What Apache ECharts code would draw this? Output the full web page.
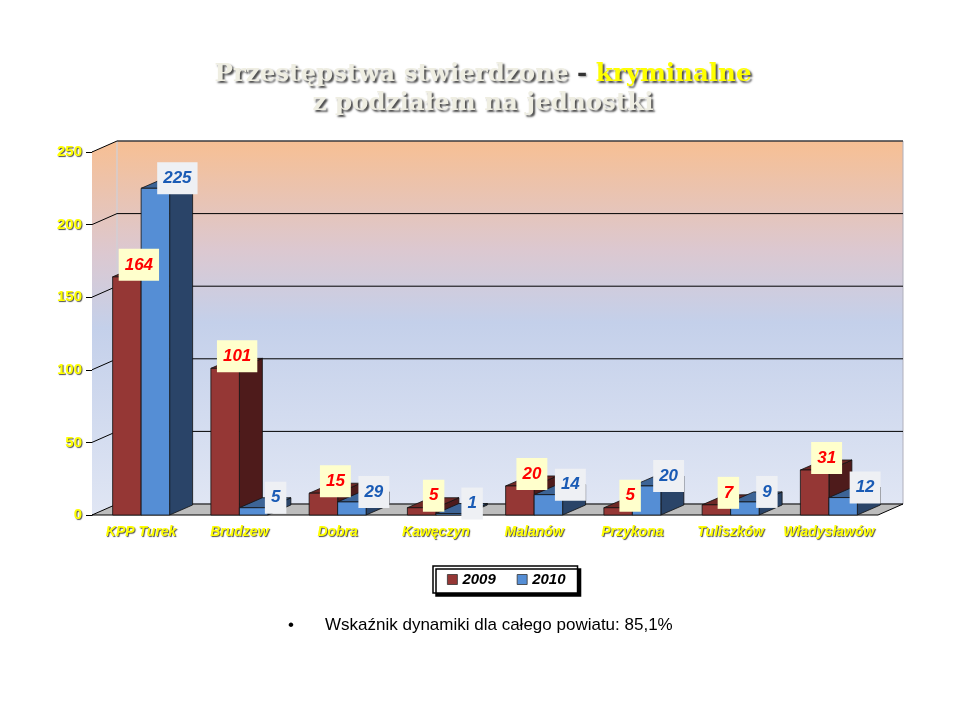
<!DOCTYPE html>
<html><head><meta charset="utf-8">
<script src="https://cdn.jsdelivr.net/npm/echarts@6/dist/echarts.min.js"></script>
<style>html,body{margin:0;padding:0;background:#fff}#c{width:960px;height:720px}</style>
</head><body><div id="c"></div>
<script>
// ---- data ----
const categories = ['KPP Turek','Brudzew','Dobra','Kawęczyn','Malanów','Przykona','Tuliszków','Władysławów'];
const values2009 = [164,101,15,5,20,5,7,31];
const values2010 = [225,5,9,1,14,20,9,12];
const labels2009 = ['164','101','15','5','20','5','7','31'];
const labels2010 = ['225','5','29','1','14','20','9','12'];
const yTicks = [0,50,100,150,200,250];
const seriesNames = ['2009','2010'];
const titleLine1a = 'Przestępstwa stwierdzone';
const titleLine1b = 'kryminalne';
const titleLine2 = 'z podziałem na jednostki';
const footnote = 'Wskaźnik dynamiki dla całego powiatu: 85,1%';

// ---- style ----
const DX = 25, DY = -11;      // wall depth
const BDX = 23, BDY = -10;    // bar depth
const RED = {front:'#953735', side:'#4e1b1b', top:'#6e2826'};
const BLUE = {front:'#558ed5', side:'#2a4468', top:'#3d6496'};
const wallGrad = () => new echarts.graphic.LinearGradient(0,0,0,1,[
  {offset:0,color:'#f7bf93'},{offset:0.3,color:'#dcc8d0'},{offset:0.5,color:'#c4d0ea'},{offset:1,color:'#e0e6f4'}]);

const chart = echarts.init(document.getElementById('c'));

function bgRender(params, api){
  const cs = params.coordSys;
  const x0 = cs.x, x1 = cs.x + cs.width, yT = cs.y, yB = cs.y + cs.height;
  const ch = [];
  ch.push({type:'polygon', shape:{points:[[x0,yT],[x0+DX,yT+DY],[x0+DX,yB+DY],[x0,yB]]},
    style:{fill:wallGrad(), stroke:null}});
  ch.push({type:'rect', shape:{x:x0+DX,y:yT+DY,width:cs.width,height:cs.height},
    style:{fill:wallGrad(), stroke:'#b0b0bc', lineWidth:1}});
  ch.push({type:'line', shape:{x1:x0+DX,y1:yT+DY,x2:x0+DX,y2:yB+DY}, style:{stroke:'rgba(255,255,255,0.5)',lineWidth:1}});
  yTicks.forEach(v=>{
    if (v===0) return;
    const y = api.coord([0,v])[1];
    ch.push({type:'polyline', shape:{points:[[x0,y],[x0+DX,y+DY],[x1+DX,y+DY]]}, style:{stroke:'#000',lineWidth:1,fill:null}});
  });
  ch.push({type:'polygon', shape:{points:[[x0,yB],[x1,yB],[x1+DX,yB+DY],[x0+DX,yB+DY]]},
    style:{fill:'#bdbdbd', stroke:'#000', lineWidth:1}});
  return {type:'group', children:ch};
}

function barRender(k){
  const col = k===0 ? RED : BLUE;
  return function(params, api){
    const i = api.value(0), v = api.value(1);
    const c = api.coord([i,v]), b = api.coord([i,0]);
    const bw = api.size([1,0])[0]*0.29;
    const xl = k===0 ? c[0]-bw : c[0], xr = k===0 ? c[0] : c[0]+bw;
    const top = c[1], base = b[1];
    const st = {stroke:'#111', lineWidth:0.8, lineJoin:'round'};
    return {type:'group', children:[
      {type:'polygon', shape:{points:[[xr,top],[xr+BDX,top+BDY],[xr+BDX,base+BDY],[xr,base]]}, style:Object.assign({fill:col.side},st)},
      {type:'polygon', shape:{points:[[xl,top],[xr,top],[xr+BDX,top+BDY],[xl+BDX,top+BDY]]}, style:Object.assign({fill:col.top},st)},
      {type:'rect', shape:{x:xl,y:top,width:bw,height:base-top}, style:Object.assign({fill:col.front},st)}
    ]};
  };
}

function labelRender(k){
  const labs = k===0 ? labels2009 : labels2010;
  return function(params, api){
    const i = api.value(0), v = api.value(1);
    const c = api.coord([i,v]);
    const bw = api.size([1,0])[0]*0.29;
    const fc = k===0 ? c[0]-bw/2 : c[0]+bw/2;
    const cx = fc + (k===0 ? 12 : 22), cy = c[1] + (k===0 ? -12 : -10);
    return {type:'text', x:cx, y:cy, style:{
      text: labs[i], font:'italic bold 17px "Liberation Sans", Arial, sans-serif',
      fill: k===0 ? '#ff0000' : '#1a5bb5', align:'center', verticalAlign:'middle',
      backgroundColor: k===0 ? '#ffffcc' : '#eef0f4', padding:[8,6,7,6]
    }};
  };
}

const yellowText = {color:'#ffff00', fontWeight:'bold', fontFamily:'"Liberation Sans", Arial, sans-serif',
  textShadowColor:'rgba(60,60,60,0.9)', textShadowBlur:1, textShadowOffsetX:1, textShadowOffsetY:1};

const TF = '"DejaVu Serif", serif';
const titleRich = {
  a:{fontFamily:TF, fontWeight:'bold', fontSize:24.5, fill:'#efeee2',
     textShadowColor:'rgba(0,0,0,0.7)', textShadowBlur:2, textShadowOffsetX:2, textShadowOffsetY:2},
  d:{fontFamily:TF, fontWeight:'bold', fontSize:24.5, fill:'#333',
     textShadowColor:'rgba(0,0,0,0.4)', textShadowBlur:2, textShadowOffsetX:1, textShadowOffsetY:1},
  b:{fontFamily:TF, fontWeight:'bold', fontSize:24.5, fill:'#ffff00',
     textShadowColor:'rgba(0,0,0,0.7)', textShadowBlur:2, textShadowOffsetX:2, textShadowOffsetY:2}
};

chart.setOption({
  animation:false,
  backgroundColor:'#ffffff',
  grid:{left:92, right:82, top:152, bottom:205},
  legend:{
    data:seriesNames, left:433, top:566, orient:'horizontal',
    padding:[6,12,6,14], itemGap:21, itemWidth:10, itemHeight:10, icon:'rect',
    backgroundColor:'#fff', borderColor:'#000', borderWidth:1.5,
    shadowColor:'rgba(0,0,0,1)', shadowBlur:0, shadowOffsetX:3, shadowOffsetY:3,
    itemStyle:{borderColor:'#333', borderWidth:0.8},
    textStyle:{color:'#000', fontWeight:'bold', fontStyle:'italic', fontSize:15, fontFamily:'"Liberation Sans", Arial, sans-serif'}
  },
  xAxis:{type:'category', data:categories,
    axisLine:{show:false}, axisTick:{show:false}, splitLine:{show:false},
    axisLabel:Object.assign({interval:0, fontSize:14, fontStyle:'italic', margin:10}, yellowText)},
  yAxis:{type:'value', min:0, max:250, interval:50,
    axisLine:{show:true, lineStyle:{color:'#000', width:1}},
    axisTick:{show:true, length:6, lineStyle:{color:'#000'}},
    splitLine:{show:false},
    axisLabel:Object.assign({fontSize:15, margin:10}, yellowText)},
  graphic:[
    {type:'text', x:483, y:75, style:{text:'{a|'+titleLine1a+'}{d| - }{b|'+titleLine1b+'}', rich:titleRich, align:'center', verticalAlign:'middle'}},
    {type:'text', x:483, y:104, style:{text:'{a|'+titleLine2+'}', rich:titleRich, align:'center', verticalAlign:'middle'}},
    {type:'text', x:288, y:625, style:{text:'•', font:'17px "Liberation Sans", Arial, sans-serif', fill:'#000', verticalAlign:'middle'}},
    {type:'text', x:325, y:625, style:{text:footnote, font:'17px "Liberation Sans", Arial, sans-serif', fill:'#000', verticalAlign:'middle'}}
  ],
  series:[
    {name:'bg', type:'custom', z:1, silent:true, renderItem:bgRender, data:[[0,0]], encode:{x:0,y:1}},
    {name:seriesNames[0], type:'custom', z:2, renderItem:barRender(0), itemStyle:{color:RED.front},
      data:values2009.map((v,i)=>[i,v]), encode:{x:0,y:1}},
    {name:seriesNames[1], type:'custom', z:2, renderItem:barRender(1), itemStyle:{color:BLUE.front},
      data:values2010.map((v,i)=>[i,v]), encode:{x:0,y:1}},
    {name:'l2009', type:'custom', z:5, silent:true, renderItem:labelRender(0),
      data:values2009.map((v,i)=>[i,v]), encode:{x:0,y:1}},
    {name:'l2010', type:'custom', z:5, silent:true, renderItem:labelRender(1),
      data:values2010.map((v,i)=>[i,v]), encode:{x:0,y:1}}
  ]
});
</script></body></html>
